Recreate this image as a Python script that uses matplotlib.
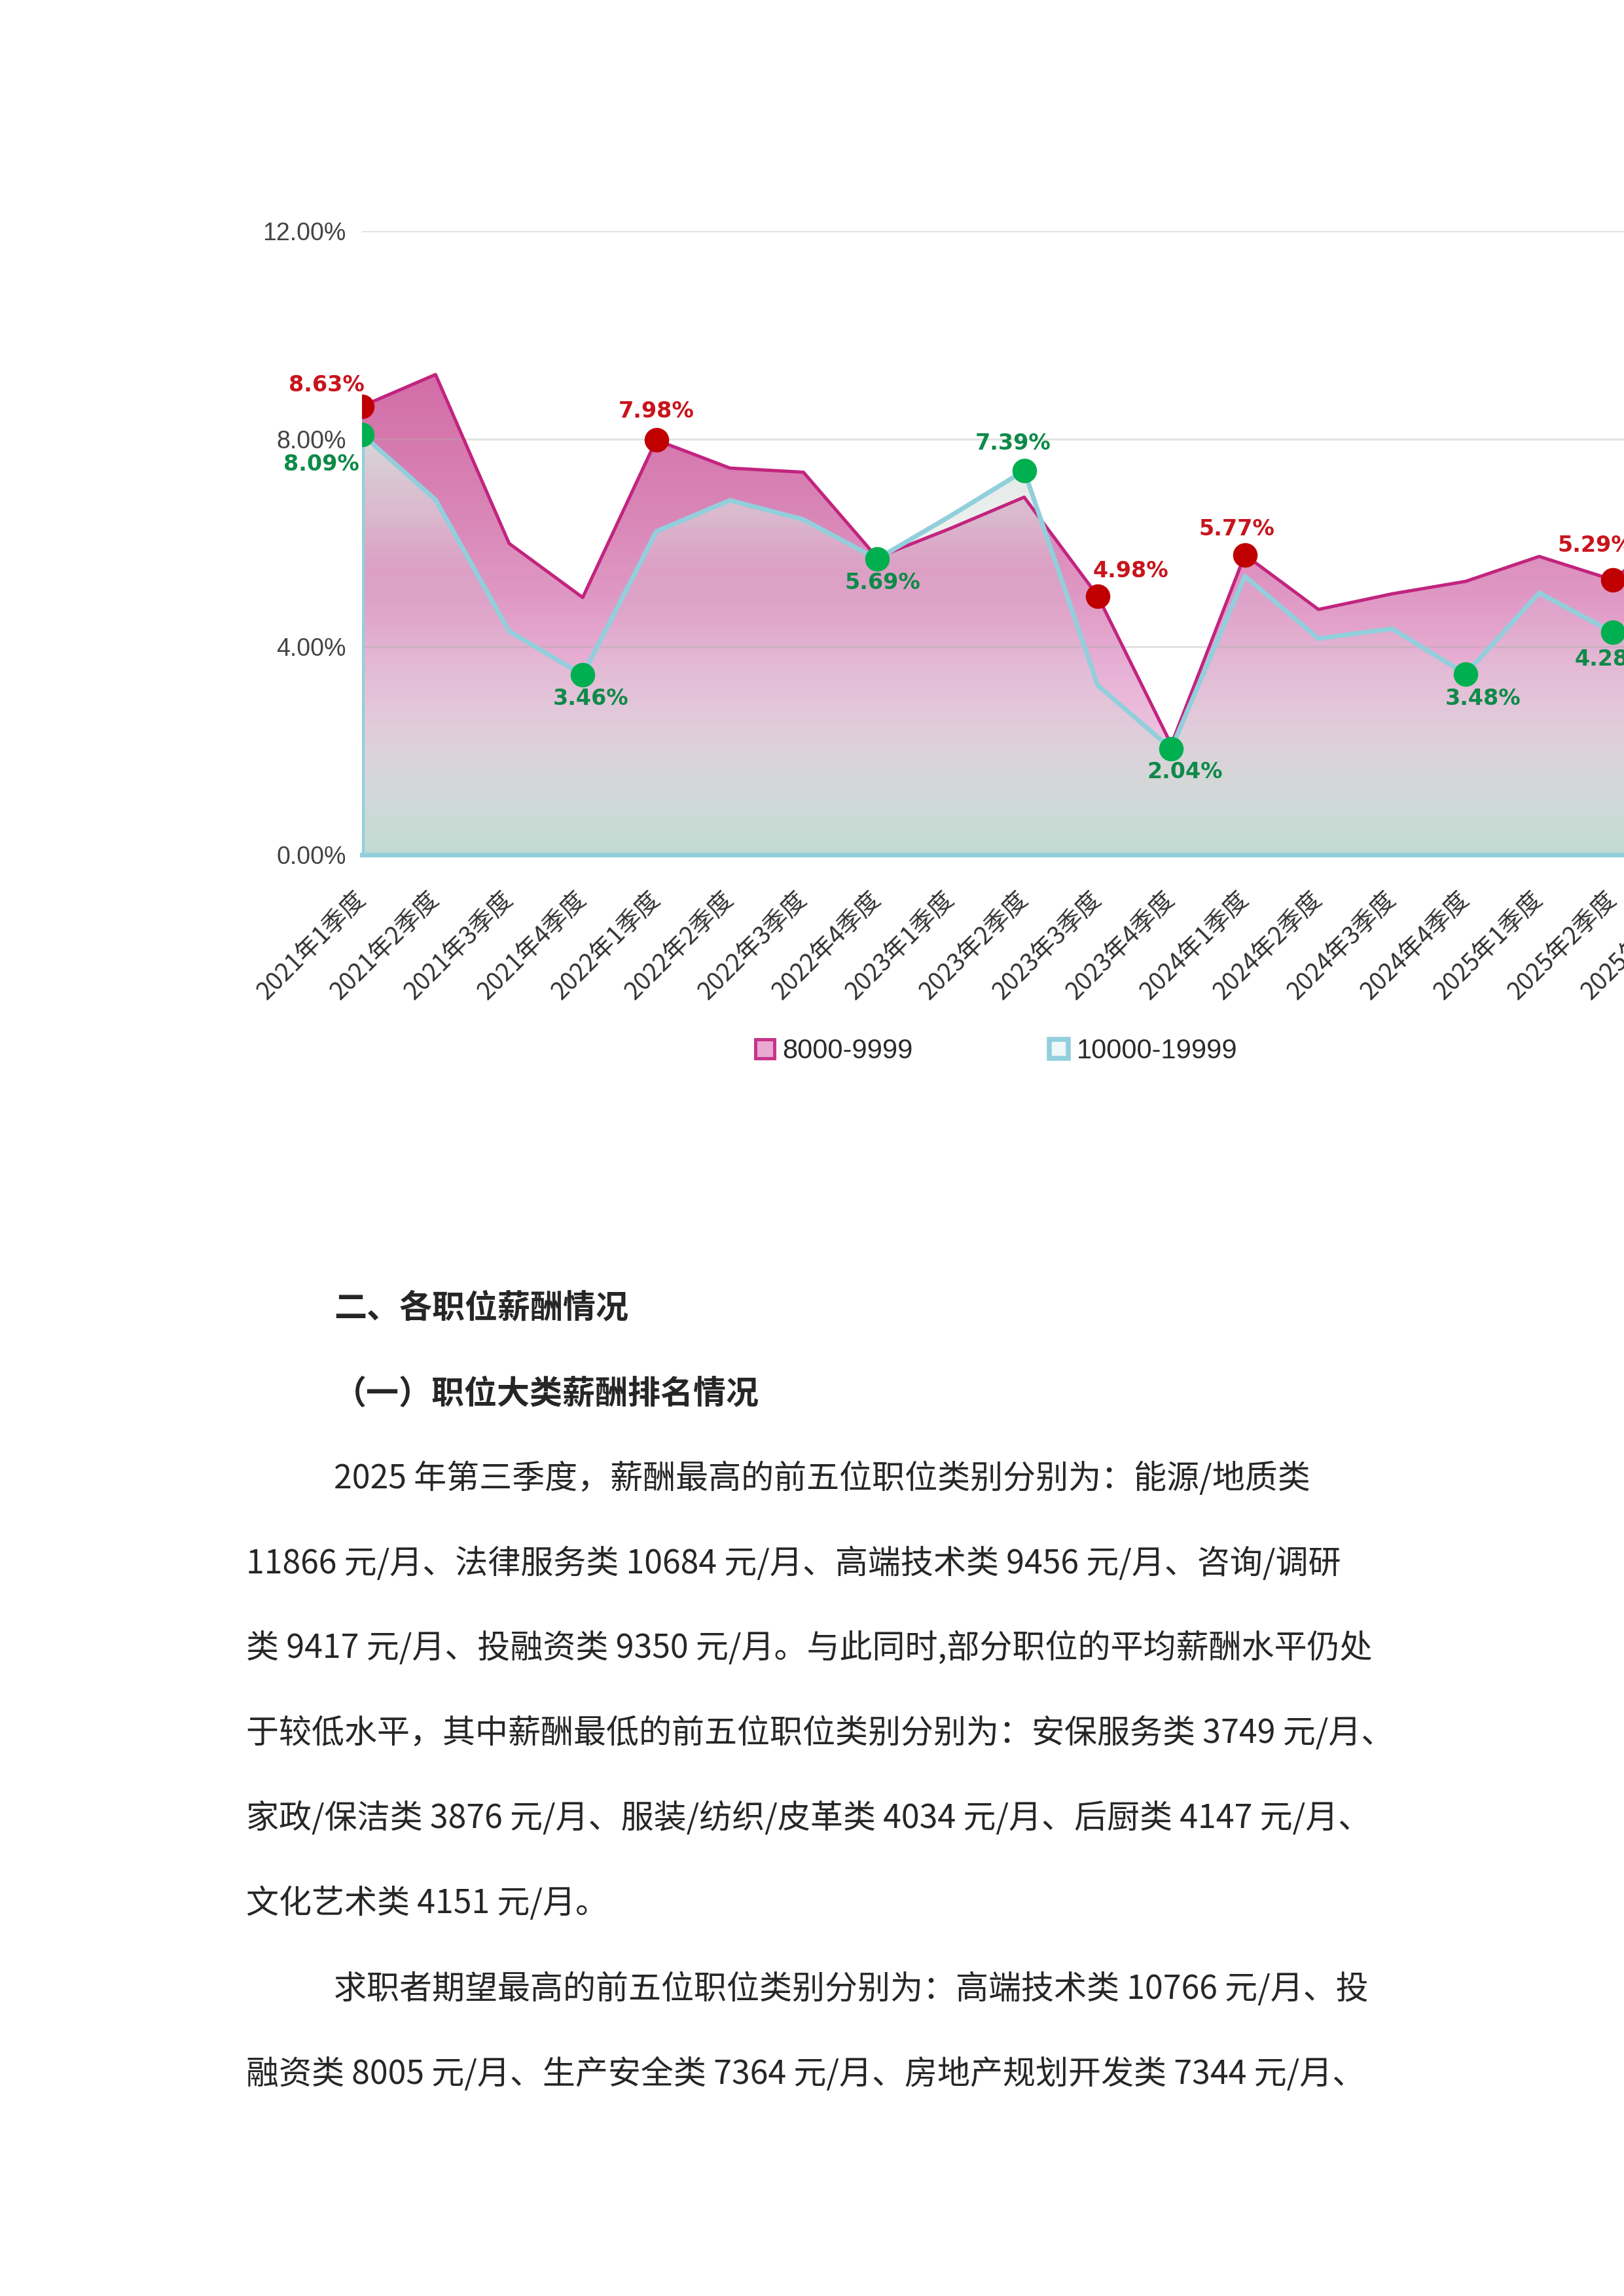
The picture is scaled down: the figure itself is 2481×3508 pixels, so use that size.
import numpy as np
import matplotlib
matplotlib.use("Agg")
from matplotlib import pyplot as plt
from matplotlib import font_manager
from matplotlib.patches import Patch

plt.rcParams["font.family"] = ["Noto Sans CJK SC", "DejaVu Sans"]

# Quarterly share (%) of the two salary bands
quarters = ["2021年1季度", "2021年2季度", "2021年3季度", "2021年4季度",
            "2022年1季度", "2022年2季度", "2022年3季度", "2022年4季度",
            "2023年1季度", "2023年2季度", "2023年3季度", "2023年4季度",
            "2024年1季度", "2024年2季度", "2024年3季度", "2024年4季度",
            "2025年1季度", "2025年2季度", "2025年3季度"]
band_8k = [8.63, 9.24, 5.99, 4.95, 7.98, 7.44, 7.36, 5.72, 6.28, 6.88,
           4.98, 2.12, 5.77, 4.72, 5.02, 5.26, 5.74, 5.29, 6.40]
band_10k = [8.09, 6.83, 4.30, 3.46, 6.22, 6.82, 6.45, 5.69, 6.52, 7.39,
            3.26, 2.04, 5.36, 4.16, 4.35, 3.48, 5.04, 4.28, 4.90]
series_names = ["8000-9999", "10000-19999"]
y_ticks = [0, 4, 8, 12]

# points that carry a marker and a value label
marked_8k = [0, 4, 10, 12, 17]
marked_10k = [0, 3, 7, 9, 11, 15, 17]

# text of the document page below the chart: (text, indented, bold)
doc_lines = [
    ("二、各职位薪酬情况", True, True),
    ("（一）职位大类薪酬排名情况", True, True),
    ("2025 年第三季度，薪酬最高的前五位职位类别分别为：能源/地质类", True, False),
    ("11866 元/月、法律服务类 10684 元/月、高端技术类 9456 元/月、咨询/调研", False, False),
    ("类 9417 元/月、投融资类 9350 元/月。与此同时,部分职位的平均薪酬水平仍处", False, False),
    ("于较低水平，其中薪酬最低的前五位职位类别分别为：安保服务类 3749 元/月、", False, False),
    ("家政/保洁类 3876 元/月、服装/纺织/皮革类 4034 元/月、后厨类 4147 元/月、", False, False),
    ("文化艺术类 4151 元/月。", False, False),
    ("求职者期望最高的前五位职位类别分别为：高端技术类 10766 元/月、投", True, False),
    ("融资类 8005 元/月、生产安全类 7364 元/月、房地产规划开发类 7344 元/月、", False, False),
]

W, H = 2481, 3508
available = {f.name for f in font_manager.fontManager.ttflist}
tick_font = "Liberation Sans Narrow" if "Liberation Sans Narrow" in available else "Liberation Sans"


def vertical_gradient(stops, top, n=600):
    ys = np.linspace(0, top, n)
    pos = [s[0] for s in stops]
    img = np.zeros((n, 1, 4))
    for c in range(4):
        img[:, 0, c] = np.interp(ys, pos, [s[1][c] for s in stops])
    return img


def hx(h, a=1.0):
    h = h.lstrip("#")
    return tuple(int(h[i:i + 2], 16) / 255 for i in (0, 2, 4)) + (a,)


fig = plt.figure(figsize=(W / 300, H / 300), dpi=300)
ax = fig.add_axes([553 / W, 1 - 1306 / H, 19 * 112.4 / W, (1306 - 353) / H])

x = np.arange(len(quarters))
top = y_ticks[-1]

# pink band area with vertical gradient
pink_stops = [(0, hx("#f4dfee")), (2, hx("#eec6e2")), (3.5, hx("#e8b2d6")),
              (5, hx("#df98c4")), (7, hx("#d881b4")), (9.5, hx("#d26ba6")),
              (12, hx("#cc5e9d"))]
poly = ax.fill_between(x, 0, band_8k, facecolor="none", edgecolor="none")
im = ax.imshow(vertical_gradient(pink_stops, top), extent=(x[0], x[-1], 0, top),
               origin="lower", aspect="auto", zorder=1, interpolation="bilinear")
im.set_clip_path(poly.get_paths()[0], ax.transData)

# light blue band area, semi transparent on top
blue_stops = [(0, (0.75, 0.86, 0.82, 0.95)), (1, (0.78, 0.86, 0.83, 0.8)),
              (2, (0.82, 0.86, 0.84, 0.6)), (3, (0.85, 0.85, 0.85, 0.35)),
              (4.5, (0.86, 0.86, 0.86, 0.12)), (5.5, (0.86, 0.87, 0.87, 0.2)),
              (6.5, (0.86, 0.89, 0.88, 0.55)), (8.1, (0.86, 0.9, 0.88, 0.9)),
              (12, (0.86, 0.9, 0.88, 0.9))]
poly2 = ax.fill_between(x, 0, band_10k, facecolor="none", edgecolor="none")
im2 = ax.imshow(vertical_gradient(blue_stops, top), extent=(x[0], x[-1], 0, top),
                origin="lower", aspect="auto", zorder=1.5, interpolation="bilinear")
im2.set_clip_path(poly2.get_paths()[0], ax.transData)

red_line = "#c2247f"
blue_line = "#92cfdc"
ax.plot(x, band_8k, color=red_line, lw=1.2, zorder=3)
ax.plot(x, band_10k, color=blue_line, lw=1.7, zorder=3.2)
ax.plot([x[0], x[0]], [0, band_10k[0]], color=blue_line, lw=1.7, zorder=3.2)
ax.plot([x[0], x[-1]], [0, 0], color=blue_line, lw=1.7, zorder=3.2, clip_on=False)

ax.plot(x[marked_8k], np.array(band_8k)[marked_8k], "o", color="#c00000",
        ms=9, mec="none", zorder=5)
ax.plot(x[marked_10k], np.array(band_10k)[marked_10k], "o", color="#00b050",
        ms=9, mec="none", zorder=5)

offsets_8k = {0: (-13, 7.6), 4: (0, 10.5), 10: (12, 9.2), 12: (-3, 9.5), 17: (-6.4, 12.5)}
offsets_10k = {0: (-15, -11), 3: (3, -8.8), 7: (2, -8.8), 9: (-4, 10),
               11: (5, -8.5), 15: (6.4, -9), 17: (0, -10)}
for idx in marked_8k:
    ax.annotate(f"{band_8k[idx]:.2f}%", (x[idx], band_8k[idx]), xytext=offsets_8k[idx],
                textcoords="offset points", ha="center", va="center", fontsize=8,
                fontweight="bold", color="#c8141c", family="DejaVu Sans",
                annotation_clip=False, zorder=6)
for idx in marked_10k:
    ax.annotate(f"{band_10k[idx]:.2f}%", (x[idx], band_10k[idx]), xytext=offsets_10k[idx],
                textcoords="offset points", ha="center", va="center", fontsize=8,
                fontweight="bold", color="#0e8a48", family="DejaVu Sans",
                annotation_clip=False, zorder=6)

ax.set_xlim(0, 19)
ax.set_ylim(0, top)
for s in ax.spines.values():
    s.set_visible(False)

ax.set_yticks(y_ticks)
ax.set_yticklabels([f"{t:.2f}%" for t in y_ticks], family=tick_font, fontsize=9, color="#444444")
ax.tick_params(axis="y", length=0, pad=5.8)
ax.yaxis.grid(True, color="#aaaaaa", alpha=0.35, lw=0.7)
ax.set_axisbelow(False)

ax.set_xticks(x)
ax.set_xticklabels(quarters, rotation=45, ha="right", va="center",
                   rotation_mode="anchor", fontsize=9, color="#333333")
ax.tick_params(axis="x", length=0, pad=15)

handles = [Patch(facecolor="#eaa9d1", edgecolor="#c8348c", lw=1.2, label=series_names[0]),
           Patch(facecolor="#eef7f9", edgecolor="#92cfdc", lw=1.8, label=series_names[1])]
fig.legend(handles=handles, loc="center", bbox_to_anchor=(1522 / W, 1 - 1606 / H),
           ncol=2, frameon=False, handlelength=0.7, handleheight=0.7,
           handletextpad=0.3, columnspacing=5.0,
           prop={"family": "Liberation Sans", "size": 10}, labelcolor="#2a2a2a")

# document text below the chart
line_y = [2000, 2130, 2260, 2390, 2519, 2649, 2779, 2909, 3040, 3170]
for (text, indented, bold), y in zip(doc_lines, line_y):
    fig.text((510 if indented else 376) / W, 1 - y / H, text, fontsize=12,
             fontweight="bold" if bold else "normal", color="#262626",
             ha="left", va="center")

fig.savefig("out.png", dpi=300)
